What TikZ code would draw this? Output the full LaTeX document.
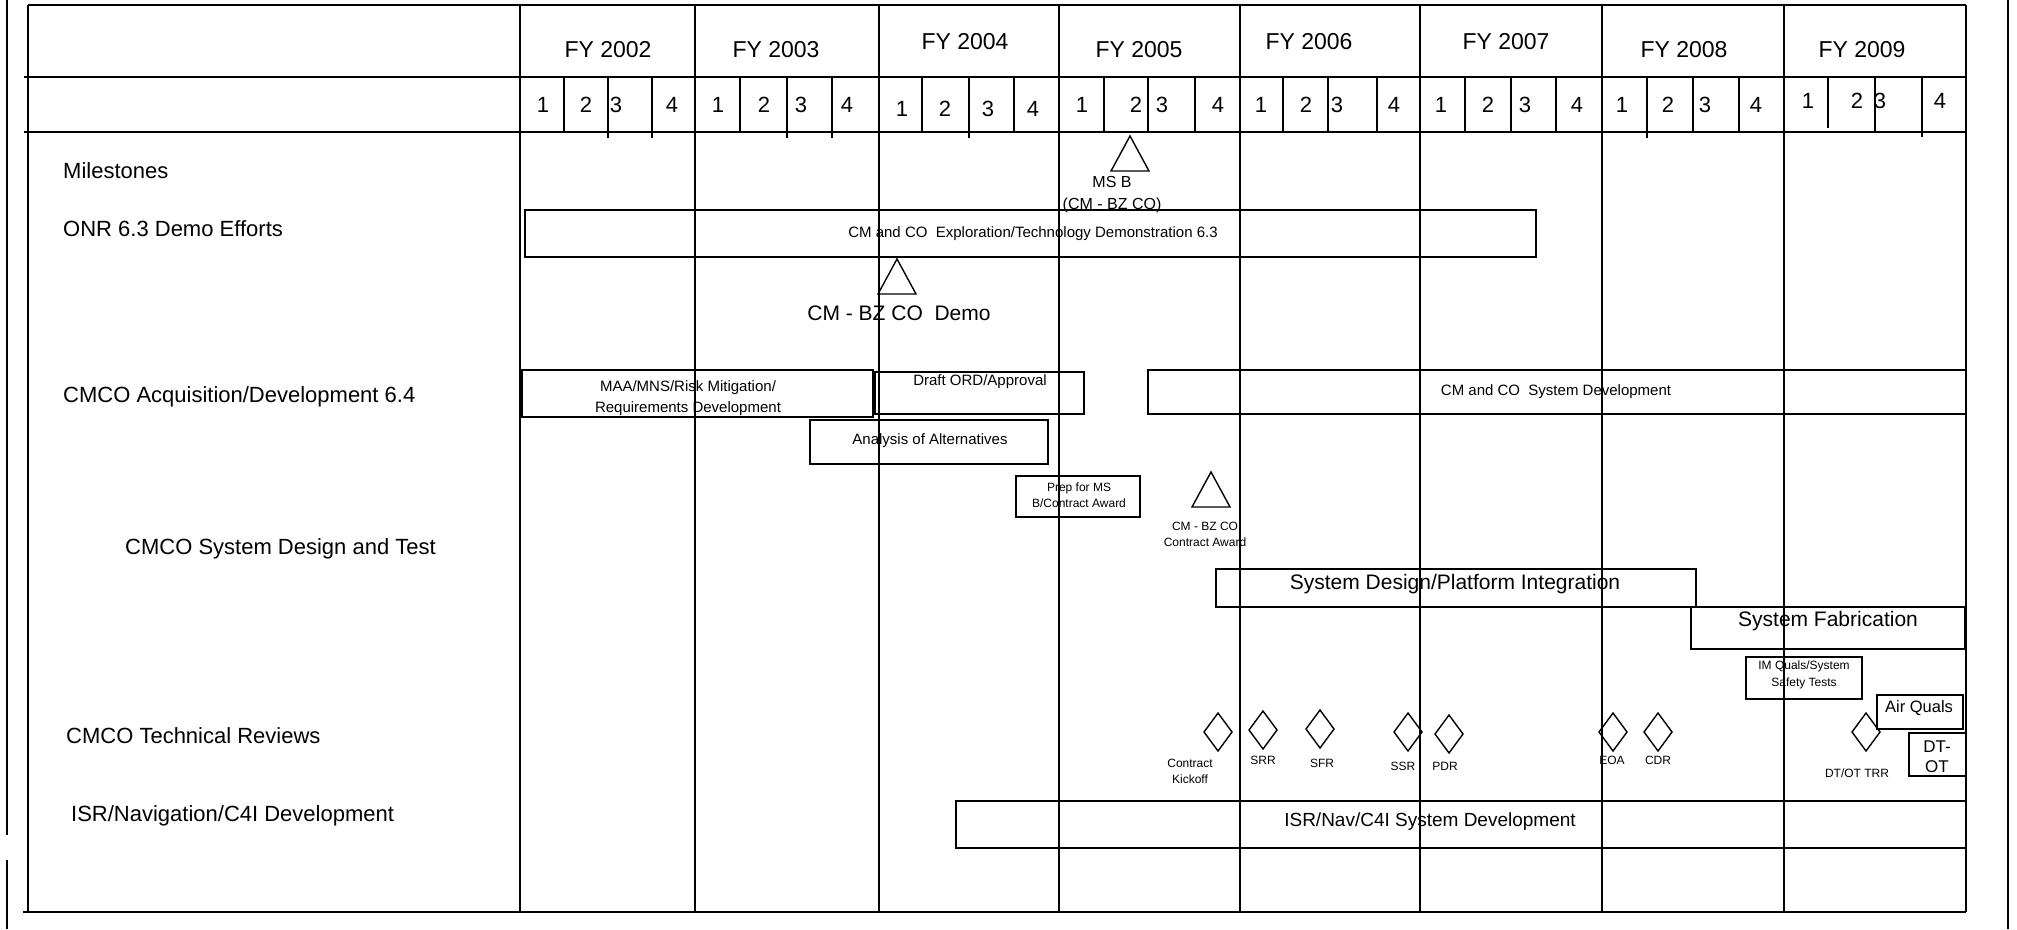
\documentclass[tikz,border=0pt]{standalone}
\usepackage{fontspec}
\setmainfont{Liberation Sans}
\usetikzlibrary{positioning}
\newcommand{\fs}[2]{\fontsize{#1}{#2}\selectfont}
\newcommand{\activity}[4]{\draw[task] (#1,#2) rectangle (#3,#4)}
\newcommand{\milestone}[2]{\draw[task] (#1,#2) --++ (19,35) --++ (-38,0) -- cycle}
\newcommand{\review}[2]{\draw[task] (#1,#2) ++(0,-19) --++ (14,19) --++ (-14,19) --++ (-14,-19) -- cycle}

\begin{document}
\begin{tikzpicture}[x=1pt, y=-1pt,
	grid/.style={line width=1.8pt},
	task/.style={line width=1.4pt},
	every node/.style={inner sep=0pt},
	row/.style={anchor=west, font=\fs{22}{26}},
	year/.style={font=\fs{23}{27}},
	qnum/.style={font=\fs{22}{26}},
	small/.style={font=\fs{12}{16}, align=center},
	mid/.style={font=\fs{15}{21}, align=center},
	large/.style={font=\fs{21}{25}}]
\useasboundingbox (0,0) rectangle (2017,929);
%Borders
	\draw[line width=2.8pt] (7,0) -- (7,835);
	\draw[line width=2.8pt] (7,860) -- (7,929);
	\draw[line width=2.8pt] (2008,0) -- (2008,929);
	\draw[grid] (28,5) -- (1966,5);
	\draw[grid] (24,77) -- (1966,77);
	\draw[grid] (24,132) -- (1966,132);
	\draw[grid] (23,912) -- (1966,912);
	\foreach \x in {28,520,695,879,1059,1240,1420,1602,1784,1966}
		\draw[grid] (\x,5) -- (\x,912);
%Quarters
	\foreach \x/\b in {564/132,608/138,652/138,740/132,787/138,832/138,
		922/132,969/138,1014/132,1104/132,1148/132,1195/132,
		1283/132,1328/132,1377/132,1465/132,1511/132,1556/132,
		1647/138,1693/132,1739/132,1828/128,1875/132,1922/137}
		\draw[task] (\x,77) -- (\x,\b);
	\foreach \x/\y/\n [count=\i] in {2002/50/608,2003/50/776,2004/42/965,2005/50/1139,
		2006/42/1309,2007/42/1506,2008/50/1684,2009/50/1862}
		\node[year] (fy\i) at (\n,\y) {FY \x};
	\foreach \x/\y/\n [count=\i] in {543/105/1,586/105/2,616/105/3,672/105/4,
		718/105/1,764/105/2,801/105/3,847/105/4,
		902/109/1,945/109/2,988/109/3,1033/109/4,
		1082/105/1,1136/105/2,1162/105/3,1218/105/4,
		1261/105/1,1306/105/2,1337/105/3,1394/105/4,
		1441/105/1,1488/105/2,1525/105/3,1577/105/4,
		1622/105/1,1668/105/2,1705/105/3,1756/105/4,
		1808/101/1,1857/101/2,1880/101/3,1940/101/4}
		\node[qnum] (q\i) at (\x,\y) {\n};
%Row titles
	\node[row] (mile) at (63,171) {Milestones};
	\node[row] (onr) at (63,229) {ONR 6.3 Demo Efforts};
	\node[row] (acq) at (63,397) {CMCO Acquisition/Development 6.4};
	\node[row] (sdt) at (125,549) {CMCO System Design and Test};
	\node[row] (rev) at (66,736) {CMCO Technical Reviews};
	\node[row] (isr) at (71,816) {ISR/Navigation/C4I Development};
%Demo efforts
	\activity{525}{210}{1536}{257};
	\node[mid] (onrtxt) at (1033,234) {CM and CO\ \ Exploration/Technology Demonstration 6.3};
	\milestone{1130}{136};
	\node[font=\fs{16}{22}, align=center] (msb) at (1112,195) {MS B\\(CM - BZ CO)};
	\milestone{897}{259};
	\node[large] (demo) at (899,313) {CM - BZ CO\ \ Demo};
%Acquisition
	\activity{522}{370}{873}{417};
	\node[mid] (maa) at (688,398) {MAA/MNS/Risk Mitigation/\\Requirements Development};
	\activity{875}{372}{1084}{414};
	\node[mid] (ord) at (980,382) {Draft ORD/Approval};
	\activity{1148}{370}{1966}{414};
	\node[mid] (dev) at (1556,392) {CM and CO\ \ System Development};
	\activity{810}{420}{1048}{464};
	\node[mid] (aoa) at (930,441) {Analysis of Alternatives};
%Design and test
	\activity{1016}{476}{1140}{517};
	\node[small] (prep) at (1079,495) {Prep for MS\\B/Contract Award};
	\milestone{1211}{472};
	\node[small] (award) at (1205,534) {CM - BZ CO\\Contract Award};
	\activity{1216}{569}{1696}{607};
	\node[large] (sdpi) at (1455,584) {System Design/Platform Integration};
	\activity{1691}{607}{1965}{649};
	\node[large] (fab) at (1828,621) {System Fabrication};
	\activity{1746}{657}{1862}{699};
	\node[font=\fs{12}{17}, align=center] (imq) at (1804,675) {IM Quals/System\\Safety Tests};
	\activity{1877}{695}{1963}{729};
	\node[font=\fs{16.5}{20}] (air) at (1919,708) {Air Quals};
	\activity{1909}{733}{1966}{776};
	\node[font=\fs{17}{20}, align=center] (dtot) at (1937,757) {DT-\\OT};
%Reviews
	\review{1218}{732};
	\node[small] (ck) at (1190,771) {Contract\\Kickoff};
	\review{1263}{730};
	\node[small] (srr) at (1263,760) {SRR};
	\review{1320}{729};
	\node[small] (sfr) at (1322,763) {SFR};
	\review{1408}{732};
	\node[small] (ssr) at (1403,766) {SSR};
	\review{1449}{734};
	\node[small] (pdr) at (1445,766) {PDR};
	\review{1613}{732};
	\node[small] (eoa) at (1612,760) {EOA};
	\review{1658}{732};
	\node[small] (cdr) at (1658,760) {CDR};
	\review{1866}{732};
	\node[small] (trr) at (1857,773) {DT/OT TRR};
%ISR
	\activity{956}{801}{1966}{848};
	\node[font=\fs{19}{23}] (isrtxt) at (1430,822) {ISR/Nav/C4I System Development};
\end{tikzpicture}
\end{document}
